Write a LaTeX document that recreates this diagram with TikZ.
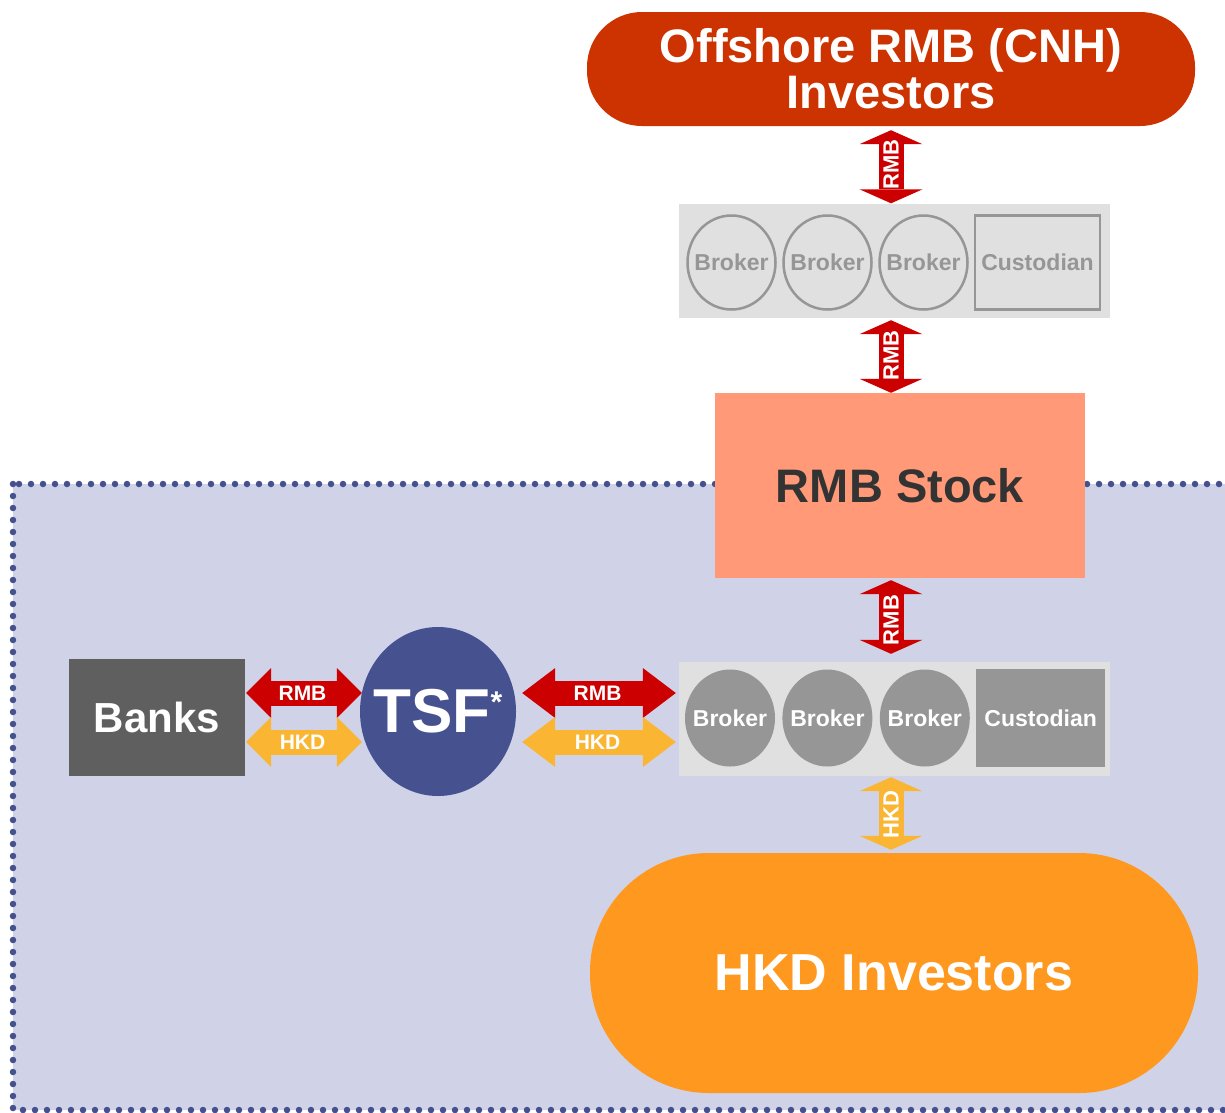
\documentclass[tikz,border=0pt]{standalone}
\usepackage{fontspec}
\setmainfont{Liberation Sans}
\usepackage{tikz}
\usetikzlibrary{arrows.meta,positioning,shapes.geometric}

\definecolor{cnhred}{HTML}{CC3300}
\definecolor{rmbred}{HTML}{CC0000}
\definecolor{hkdgold}{HTML}{FAB633}
\definecolor{hkdorange}{HTML}{FF981E}
\definecolor{stocksalmon}{HTML}{FF9977}
\definecolor{stocktext}{HTML}{333333}
\definecolor{bankgrey}{HTML}{5F5F5F}
\definecolor{tsfblue}{HTML}{46518F}
\definecolor{panelgrey}{HTML}{E0E0E0}
\definecolor{brokergrey}{HTML}{969696}
\definecolor{zonefill}{HTML}{D0D3E8}
\definecolor{zonedot}{HTML}{45508F}

\begin{document}
\begin{tikzpicture}[x=1pt, y=-1pt]
\tikzset{
  base/.style={align=center, inner sep=0pt, text=white},
  offshore/.style={base, fill=cnhred, rounded corners=55pt, minimum width=608pt, minimum height=114pt, font=\fontsize{47}{46}\selectfont\bfseries},
  hkdinv/.style={base, fill=hkdorange, rounded corners=119pt, minimum width=608pt, minimum height=240pt, font=\fontsize{52}{52}\selectfont\bfseries},
  stock/.style={base, fill=stocksalmon, text=stocktext, minimum width=370pt, minimum height=185pt, font=\fontsize{47}{47}\selectfont\bfseries},
  bank/.style={base, fill=bankgrey, minimum width=176pt, minimum height=117pt, font=\fontsize{42}{42}\selectfont\bfseries},
  tsf/.style={base, ellipse, fill=tsfblue, minimum width=156pt, minimum height=169pt, font=\fontsize{62}{62}\selectfont\bfseries},
  panel/.style={fill=panelgrey, minimum width=431pt, minimum height=114pt, inner sep=0pt},
  brokerA/.style={ellipse, draw=brokergrey, line width=2.5pt, text=brokergrey, inner sep=0pt, minimum width=88pt, minimum height=94pt, font=\fontsize{23}{23}\selectfont\bfseries},
  custA/.style={draw=brokergrey, line width=2.5pt, text=brokergrey, inner sep=0pt, minimum width=125pt, minimum height=94pt, font=\fontsize{23}{23}\selectfont\bfseries},
  brokerB/.style={ellipse, fill=brokergrey, text=white, inner sep=0pt, minimum width=90pt, minimum height=97pt, font=\fontsize{23}{23}\selectfont\bfseries},
  custB/.style={fill=brokergrey, text=white, inner sep=0pt, minimum width=129pt, minimum height=98pt, font=\fontsize{23}{23}\selectfont\bfseries},
  vflow/.style={line width=25pt, {Triangle[length=14pt,width=63pt,line width=0pt]}-{Triangle[length=14pt,width=63pt,line width=0pt]}},
  hflow/.style={line width=25pt, {Triangle[length=#1,width=50pt,line width=0pt]}-{Triangle[length=#1,width=50pt,line width=0pt]}},
  hflow/.default=25pt,
  tag/.style={text=white, inner sep=0pt, font=\fontsize{21}{21}\selectfont\bfseries},
  vtag/.style={tag, rotate=90, font=\fontsize{22}{22}\selectfont\bfseries},
  zone/.style={fill=zonefill, draw=zonedot, line width=6.5pt, line cap=round, dash pattern=on 0pt off 12pt},
}
\useasboundingbox (0,0) rectangle (1225,1112);

% Hong Kong zone
\draw[zone] (13,484) rectangle (1250,1110);

% Investors and stock
\node (offshore) [offshore] at (891,69) {Offshore RMB (CNH)\\Investors};
\node (stock) [stock] at (900,485.5) {RMB Stock};
\node (hkd) [hkdinv] at (894,973) {HKD Investors};

% Upper broker panel
\node (panelA) [panel] at (894.5,260.5) {};
\node (brkA1) [brokerA] at (731.5,262.5) {\makebox[0pt]{Broker}};
\node (brkA2) [brokerA, right=5.5pt of brkA1] {\makebox[0pt]{Broker}};
\node (brkA3) [brokerA, right=5.5pt of brkA2] {\makebox[0pt]{Broker}};
\node (custA) [custA, right=5pt of brkA3] {Custodian};

% Lower broker panel
\node (panelB) [panel] at (894.5,719) {};
\node (brkB1) [brokerB] at (730,718) {\makebox[0pt]{Broker}};
\node (brkB2) [brokerB, right=7pt of brkB1] {\makebox[0pt]{Broker}};
\node (brkB3) [brokerB, right=7pt of brkB2] {\makebox[0pt]{Broker}};
\node (custB) [custB, right=6pt of brkB3] {Custodian};

% Banks and TSF
\node (banks) [bank] at (157,717.5) {Banks};
\node (tsf) [tsf] at (438,711.5) {\makebox[0pt]{TSF\raisebox{20pt}{\fontsize{30}{30}\selectfont*}}};

% Vertical flows
\draw[vflow, draw=rmbred, shorten <=4pt] (offshore.south) -- (offshore.south |- panelA.north) node[vtag, midway] {RMB};
\draw[vflow, draw=rmbred, shorten <=2.5pt] (offshore.south |- panelA.south) -- (offshore.south |- stock.north) node[vtag, midway] {RMB};
\draw[vflow, draw=rmbred, shorten <=2pt, shorten >=8pt] (offshore.south |- stock.south) -- (offshore.south |- panelB.north) node[vtag, midway] {RMB};
\draw[vflow, draw=hkdgold, shorten <=1pt, shorten >=3pt] (offshore.south |- panelB.south) -- (offshore.south |- hkd.north) node[vtag, midway] {HKD};

% Horizontal flows
\draw[hflow, draw=rmbred, shorten <=1pt, shorten >=-2pt] ([yshift=24.5pt]banks.east) -- ([yshift=24.5pt]banks.east -| tsf.west) node[tag, midway] {RMB};
\draw[hflow, draw=hkdgold, shorten <=1pt, shorten >=-2pt] ([yshift=-24.5pt]banks.east) -- ([yshift=-24.5pt]banks.east -| tsf.west) node[tag, midway] {HKD};
\draw[hflow=33pt, draw=rmbred, shorten <=6pt, shorten >=3pt] ([yshift=24.5pt]banks.east -| tsf.east) -- ([yshift=24.5pt]banks.east -| panelB.west) node[tag, midway] {RMB};
\draw[hflow=33pt, draw=hkdgold, shorten <=6pt, shorten >=3pt] ([yshift=-24.5pt]banks.east -| tsf.east) -- ([yshift=-24.5pt]banks.east -| panelB.west) node[tag, midway] {HKD};

\end{tikzpicture}
\end{document}
